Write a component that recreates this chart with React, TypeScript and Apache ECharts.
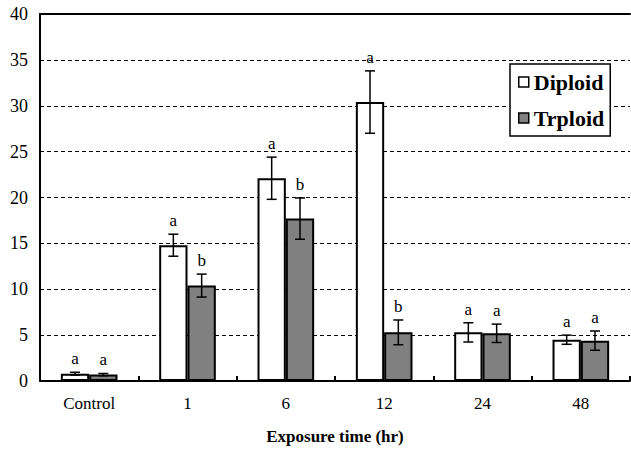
import React, { useEffect, useRef } from "react";
import * as echarts from "echarts";

const categories = ["Control", "1", "6", "12", "24", "48"];
const diploid = [0.8, 14.8, 22.1, 30.4, 5.3, 4.5];
const diploidErr = [0.15, 1.2, 2.3, 3.4, 1.05, 0.5];
const diploidLetters = ["a", "a", "a", "a", "a", "a"];
const triploid = [0.7, 10.4, 17.7, 5.3, 5.2, 4.4];
const triploidErr = [0.12, 1.25, 2.25, 1.35, 1.0, 1.05];
const triploidLetters = ["a", "b", "b", "b", "a", "a"];
const yTicks = [0, 5, 10, 15, 20, 25, 30, 35, 40];

const FONT = "Liberation Serif";
const BAR_RATIO = 0.288;

function errSeries(values: number[], errs: number[], letters: string[], side: number) {
  return {
    type: "custom",
    z: 10,
    silent: true,
    data: values.map((v, i) => [i, v, errs[i], letters[i]]),
    encode: { x: 0, y: 1 },
    renderItem: (params: any, api: any) => {
      const i = api.value(0);
      const v = api.value(1);
      const e = api.value(2);
      const band = api.size([1, 0])[0];
      const off = side * band * BAR_RATIO / 2;
      const top = api.coord([i, v + e]);
      const bot = api.coord([i, v - e]);
      const x = top[0] + off;
      const cap = 5;
      const ls = { stroke: "#000", lineWidth: 1.5 };
      return {
        type: "group",
        children: [
          { type: "line", shape: { x1: x, y1: top[1], x2: x, y2: bot[1] }, style: ls },
          { type: "line", shape: { x1: x - cap, y1: top[1], x2: x + cap, y2: top[1] }, style: ls },
          { type: "line", shape: { x1: x - cap, y1: bot[1], x2: x + cap, y2: bot[1] }, style: ls },
          {
            type: "text",
            x: x,
            y: top[1] - 5,
            style: {
              text: letters[i],
              fill: "#000",
              fontFamily: FONT,
              fontSize: 17,
              textAlign: "center",
              textVerticalAlign: "bottom",
            },
          },
        ],
      };
    },
  };
}

export default function App() {
  const ref = useRef<HTMLDivElement>(null);
  useEffect(() => {
    document.body.style.margin = "0";
    const chart = echarts.init(ref.current!, null, { renderer: "svg" });
    chart.setOption({
      animation: false,
      backgroundColor: "#fff",
      textStyle: { fontFamily: FONT },
      grid: { left: 40, right: 1, top: 14, bottom: 72 },
      legend: {
        data: ["Diploid", "Trploid"],
        orient: "vertical",
        left: 510,
        top: 64,
        backgroundColor: "#fff",
        borderColor: "#000",
        borderWidth: 1.5,
        padding: [7, 6, 7, 8],
        itemGap: 14,
        itemWidth: 10,
        itemHeight: 10,
        icon: "rect",
        itemStyle: { borderColor: "#000", borderWidth: 1.5 },
        textStyle: { fontFamily: FONT, fontWeight: "bold", fontSize: 22, color: "#000" },
      },
      xAxis: [
        {
          type: "category",
          data: categories,
          axisLine: { lineStyle: { color: "#000", width: 2 } },
          axisTick: { show: true, inside: true, length: 5, lineStyle: { color: "#000", width: 2 } },
          axisLabel: { color: "#000", fontFamily: FONT, fontSize: 17, margin: 14 },
          name: "Exposure time (hr)",
          nameLocation: "middle",
          nameGap: 47,
          nameTextStyle: { color: "#000", fontFamily: FONT, fontWeight: "bold", fontSize: 17 },
        },
        {
          type: "category",
          position: "top",
          data: categories,
          axisLine: { show: true, lineStyle: { color: "#000", width: 2 } },
          axisTick: { show: false },
          axisLabel: { show: false },
        },
      ],
      yAxis: {
        type: "value",
        min: yTicks[0],
        max: yTicks[yTicks.length - 1],
        interval: 5,
        axisLine: { show: true, lineStyle: { color: "#000", width: 2 } },
        axisTick: { show: false },
        axisLabel: { color: "#000", fontFamily: FONT, fontSize: 18, margin: 12 },
        splitLine: { show: true, lineStyle: { color: "#000", width: 1, type: [4, 3] } },
      },
      series: [
        {
          name: "Diploid",
          type: "bar",
          data: diploid,
          barWidth: (BAR_RATIO * 100).toFixed(1) + "%",
          barGap: "0%",
          itemStyle: { color: "#fff", borderColor: "#000", borderWidth: 2 },
        },
        {
          name: "Trploid",
          type: "bar",
          data: triploid,
          barWidth: (BAR_RATIO * 100).toFixed(1) + "%",
          barGap: "0%",
          itemStyle: { color: "#808080", borderColor: "#000", borderWidth: 2 },
        },
        errSeries(diploid, diploidErr, diploidLetters, -1),
        errSeries(triploid, triploidErr, triploidLetters, 1),
      ],
    });
    return () => chart.dispose();
  }, []);
  return <div ref={ref} style={{ width: 631, height: 453 }} />;
}
